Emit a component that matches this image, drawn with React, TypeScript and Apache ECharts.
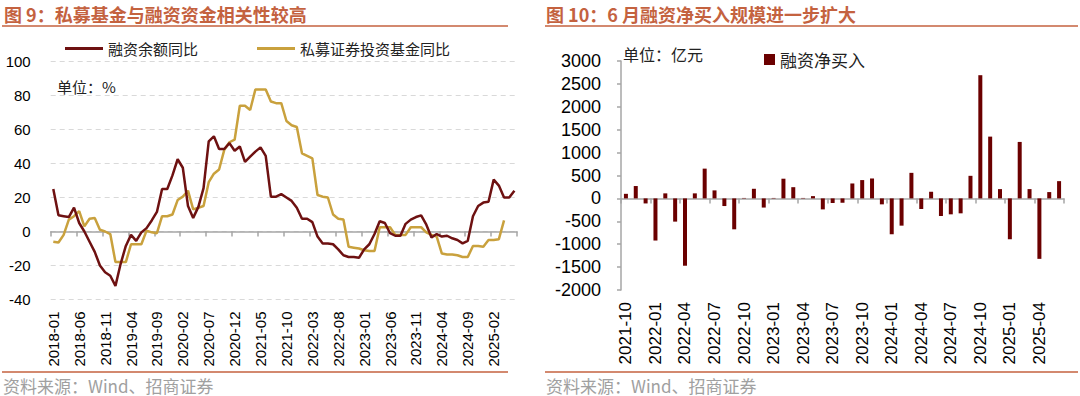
import React, { useEffect, useRef } from "react";
import * as echarts from "echarts";

function buildMonths(startYear: number, startMonth: number, count: number): string[] {
  const out: string[] = [];
  let y = startYear;
  let m = startMonth;
  for (let i = 0; i < count; i++) {
    out.push(`${y}-${m < 10 ? "0" + m : m}`);
    m++;
    if (m > 12) {
      m = 1;
      y++;
    }
  }
  return out;
}

// ---- Left chart (图 9) ----
const leftCategories = buildMonths(2018, 1, 90);
const marginBalanceYoY = [
  25, 9.5, 9, 8.5, 14, 5, 0, -6, -12, -20, -24, -26, -32, -19, -8.5, -2, -5.5, -0.5, 2, 6.5,
  11.5, 25, 25, 33, 42.5, 37.5, 15, 8, 14.5, 25.5, 53, 56, 48.5, 48.5, 52, 47.5, 50, 41, 44, 47,
  49.5, 44.5, 20.5, 20.5, 22, 20, 18, 14, 7.5, 7.5, 5.5, -3, -7, -7, -7.5, -10.5, -14, -15, -15, -15.5,
  -10.5, -7.5, -1.5, 6, 5, -1, -2.5, -2.5, 4.5, 7, 8.5, 9.5, 4, -3.5, -1.5, -3, -2.5, -4, -5, -7,
  -5.5, 9, 15, 17, 17.5, 30.5, 27, 20, 20, 24,
];
const privateFundYoY: (number | null)[] = [
  -6, -6.5, -2, 7, 9, 12, 3, 7.5, 8, 1, 0, -1.5, -18, -18, -18, -7.5, -7.5, -7.5, 0.5, -0.5,
  -1, 9, 9, 10, 18.5, 20.5, 24, 13, 14, 15, 29, 34, 36.5, 48, 52.5, 54, 74, 74, 71.5, 83.5,
  83.5, 83.5, 76.5, 75.5, 75.5, 65, 62.5, 61.5, 46, 44.5, 43, 21.5, 20.5, 20, 10, 7.5, 7, -9, -9.5, -10,
  -11, -11.5, -11.5, 2.5, 2.5, 2.5, -2, -2, -2, 2.5, 2.5, 2.5, -0.5, -2, -3, -13, -13.5, -13.5, -14, -15,
  -15, -8.5, -8.5, -9, -5, -5, -4.5, 6.5, null, null,
];
const leftSeriesNames = ["融资余额同比", "私募证券投资基金同比"];

// ---- Right chart (图 10) ----
const rightCategories = buildMonths(2021, 10, 45);
const netBuyAmount = [
  100, 270, -110, -920, 110, -507, -1470, 110, 650, 175, -167, -675, 10, 210, -200, 10, 430, 245, 10, 50,
  -240, -100, -95, 326, 400, 435, -130, -783, -595, 558, -232, 145, -384, -348, -326, 493, 2690, 1349, 203, -892,
  1233, 203, -1320, 138, 377,
];
const rightSeriesName = "融资净买入";

const TITLE_COLOR = "#C4623F";
const RED = "#6E1111";
const GOLD = "#C9A13D";
const BAR = "#6B0000";
const AXIS_GRAY = "#A6A6A6";
const CJK = '"Noto Sans CJK SC", sans-serif';
const LATIN = '"Liberation Sans", Arial, sans-serif';

export default function App() {
  const ref = useRef<HTMLDivElement>(null);

  useEffect(() => {
    if (!ref.current) return;
    const chart = echarts.init(ref.current, undefined, { renderer: "svg" });

    const option: any = {
      animation: false,
      backgroundColor: "#ffffff",
      textStyle: { fontFamily: LATIN },
      legend: [
        {
          data: [leftSeriesNames[0]],
          left: 60,
          top: 36,
          icon: "rect",
          itemWidth: 38,
          itemHeight: 3,
          itemGap: 4,
          textStyle: { fontFamily: CJK, fontSize: 15, color: "#222" },
        },
        {
          data: [leftSeriesNames[1]],
          left: 252,
          top: 36,
          icon: "rect",
          itemWidth: 38,
          itemHeight: 3,
          textStyle: { fontFamily: CJK, fontSize: 15, color: "#222" },
        },
        {
          data: [rightSeriesName],
          left: 759,
          top: 46,
          icon: "rect",
          itemWidth: 11,
          itemHeight: 11,
          itemGap: 4,
          textStyle: { fontFamily: CJK, fontSize: 17, color: "#222" },
        },
      ],
      grid: [
        { left: 50.7, top: 61.5, width: 466.3, height: 238, containLabel: false },
        { left: 621, top: 61, width: 443, height: 229, containLabel: false },
      ],
      xAxis: [
        {
          type: "category",
          gridIndex: 0,
          data: leftCategories,
          boundaryGap: true,
          position: "bottom",
          axisLine: { show: false, onZero: false },
          axisTick: { show: false },
          axisLabel: {
            rotate: 90,
            interval: 4,
            margin: 12,
            fontSize: 15,
            color: "#000",
            fontFamily: LATIN,
          },
        },
        {
          type: "category",
          gridIndex: 0,
          data: leftCategories,
          boundaryGap: true,
          position: "bottom",
          axisLine: { show: true, onZero: true, lineStyle: { color: AXIS_GRAY, width: 1.5 } },
          axisTick: { show: true, interval: 4, length: 5, lineStyle: { color: AXIS_GRAY, width: 1.5 } },
          axisLabel: { show: false },
        },
        {
          type: "category",
          gridIndex: 1,
          data: rightCategories,
          boundaryGap: true,
          position: "bottom",
          axisLine: { show: false, onZero: false },
          axisTick: { show: false },
          axisLabel: {
            rotate: 90,
            interval: 2,
            margin: 12,
            fontSize: 17,
            color: "#000",
            fontFamily: LATIN,
          },
        },
        {
          type: "category",
          gridIndex: 1,
          data: rightCategories,
          boundaryGap: true,
          position: "bottom",
          axisLine: { show: true, onZero: true, lineStyle: { color: AXIS_GRAY, width: 1.5 } },
          axisTick: { show: true, interval: 2, length: 5, lineStyle: { color: AXIS_GRAY, width: 1.5 } },
          axisLabel: { show: false },
        },
      ],
      yAxis: [
        {
          type: "value",
          gridIndex: 0,
          min: -40,
          max: 100,
          interval: 20,
          axisLine: { show: false },
          axisTick: { show: false },
          splitLine: { show: true, lineStyle: { color: "#D9D9D9", type: [5, 4], width: 1 } },
          axisLabel: {
            fontSize: 15,
            margin: 20,
            color: "#000",
            fontFamily: LATIN,
            formatter: (v: number) => String(v),
          },
        },
        {
          type: "value",
          gridIndex: 1,
          min: -2000,
          max: 3000,
          interval: 500,
          axisLine: { show: true, lineStyle: { color: AXIS_GRAY, width: 1.5 } },
          axisTick: { show: true, length: 4, lineStyle: { color: AXIS_GRAY, width: 1.5 } },
          splitLine: { show: false },
          axisLabel: {
            fontSize: 18,
            margin: 20,
            color: "#000",
            fontFamily: LATIN,
            formatter: (v: number) => String(v),
          },
        },
      ],
      series: [
        {
          name: leftSeriesNames[0],
          type: "line",
          xAxisIndex: 0,
          yAxisIndex: 0,
          data: marginBalanceYoY,
          symbol: "none",
          lineStyle: { color: RED, width: 2.5 },
          itemStyle: { color: RED },
          z: 3,
        },
        {
          name: leftSeriesNames[1],
          type: "line",
          xAxisIndex: 0,
          yAxisIndex: 0,
          data: privateFundYoY,
          symbol: "none",
          lineStyle: { color: GOLD, width: 2.5 },
          itemStyle: { color: GOLD },
          z: 2,
        },
        {
          name: rightSeriesName,
          type: "bar",
          xAxisIndex: 2,
          yAxisIndex: 1,
          data: netBuyAmount,
          barWidth: 4,
          itemStyle: { color: BAR },
        },
      ],
      graphic: [
        {
          type: "text",
          x: 4,
          y: 14,
          style: {
            text: "图 9：私募基金与融资资金相关性较高",
            font: `bold 18px ${CJK}`,
            fill: TITLE_COLOR,
            textVerticalAlign: "middle",
          },
        },
        {
          type: "line",
          shape: { x1: 2, y1: 26, x2: 508, y2: 26 },
          style: { stroke: TITLE_COLOR, lineWidth: 1.5 },
        },
        {
          type: "text",
          x: 546,
          y: 14,
          style: {
            text: "图 10：6 月融资净买入规模进一步扩大",
            font: `bold 18px ${CJK}`,
            fill: TITLE_COLOR,
            textVerticalAlign: "middle",
          },
        },
        {
          type: "line",
          shape: { x1: 545, y1: 26, x2: 1078, y2: 26 },
          style: { stroke: TITLE_COLOR, lineWidth: 1.5 },
        },
        {
          type: "text",
          x: 57,
          y: 86,
          style: {
            text: "单位：%",
            font: `15px ${CJK}`,
            fill: "#222",
            textVerticalAlign: "middle",
          },
        },
        {
          type: "text",
          x: 623,
          y: 54,
          style: {
            text: "单位：亿元",
            font: `16px ${CJK}`,
            fill: "#222",
            textVerticalAlign: "middle",
          },
        },
        {
          type: "line",
          shape: { x1: 2, y1: 372, x2: 508, y2: 372 },
          style: { stroke: TITLE_COLOR, lineWidth: 1.5 },
        },
        {
          type: "line",
          shape: { x1: 545, y1: 372, x2: 1078, y2: 372 },
          style: { stroke: TITLE_COLOR, lineWidth: 1.5 },
        },
        {
          type: "text",
          x: 3,
          y: 385,
          style: {
            text: "资料来源：Wind、招商证券",
            font: `17px ${CJK}`,
            fill: "#A0A0A0",
            textVerticalAlign: "middle",
          },
        },
        {
          type: "text",
          x: 546,
          y: 385,
          style: {
            text: "资料来源：Wind、招商证券",
            font: `17px ${CJK}`,
            fill: "#A0A0A0",
            textVerticalAlign: "middle",
          },
        },
      ],
    };

    chart.setOption(option);
    return () => {
      chart.dispose();
    };
  }, []);

  return (
    <div
      ref={ref}
      style={{ position: "absolute", left: 0, top: 0, width: 1080, height: 396, background: "#fff" }}
    />
  );
}
